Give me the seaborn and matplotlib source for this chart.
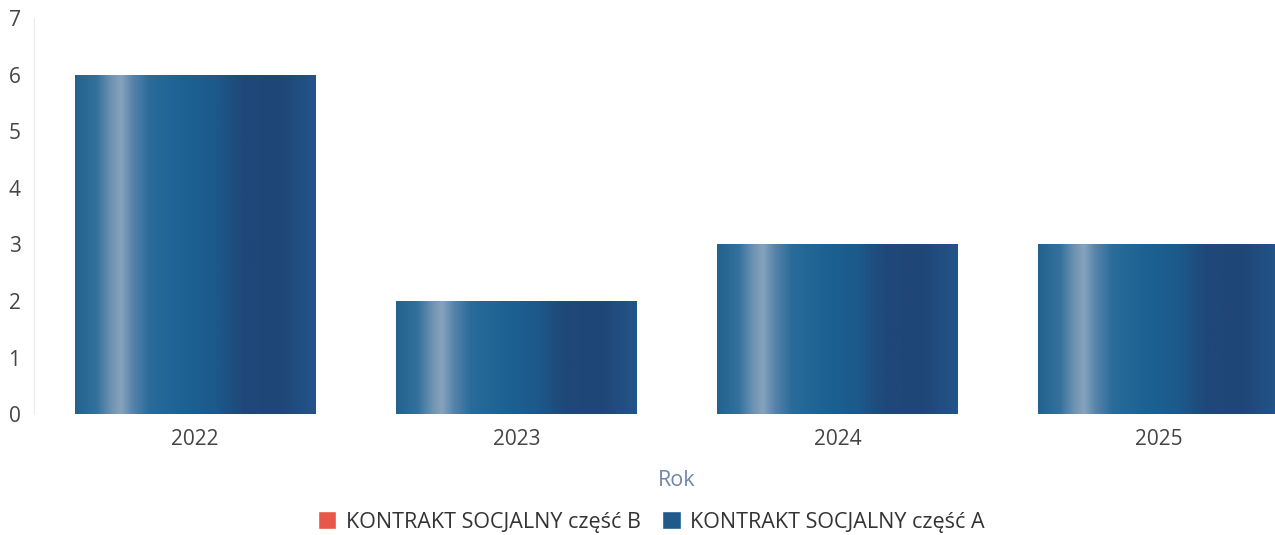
import matplotlib
matplotlib.use("Agg")
import matplotlib.pyplot as plt
from matplotlib.colors import LinearSegmentedColormap
from matplotlib.patches import Patch
import numpy as np
import pandas as pd
import seaborn as sns

# data
years = ["2022", "2023", "2024", "2025"]
values_a = [6, 2, 3, 3]   # KONTRAKT SOCJALNY część A
values_b = [0, 0, 0, 0]   # KONTRAKT SOCJALNY część B
label_a = "KONTRAKT SOCJALNY część A"
label_b = "KONTRAKT SOCJALNY część B"
y_ticks = [0, 1, 2, 3, 4, 5, 6, 7]

sns.set_theme(style="white")
plt.rcParams["font.family"] = ["Open Sans", "DejaVu Sans"]

df = pd.DataFrame({"Rok": years, "A": values_a, "B": values_b})

fig = plt.figure(figsize=(12.75, 5.35), dpi=100)
ax = fig.add_axes([0.027, 0.226, 1.008, 0.740])

sns.barplot(data=df, x="Rok", y="A", color="#1f5a8a", width=0.75,
            saturation=1, ax=ax)
n_a = len(ax.patches)
sns.barplot(data=df, x="Rok", y="B", color="#e8574a", width=0.75,
            saturation=1, bottom=values_a, ax=ax)

# horizontal shine gradient on the blue bars
blues = LinearSegmentedColormap.from_list("shine", [
    (0.00, "#23628f"), (0.09, "#34719c"), (0.15, "#6f93b2"),
    (0.19, "#86a3bd"), (0.24, "#5683aa"), (0.31, "#2a6b9a"),
    (0.45, "#1b6293"), (0.58, "#1c5a8b"), (0.70, "#1f4878"),
    (0.85, "#1f4676"), (1.00, "#23548a")])
grad = np.linspace(0, 1, 256).reshape(1, -1)
for p in ax.patches[:n_a]:
    x0, y0 = p.get_x(), p.get_y()
    w, h = p.get_width(), p.get_height()
    if h <= 0:
        continue
    im = ax.imshow(grad, cmap=blues, aspect="auto",
                   extent=[x0, x0 + w, y0, y0 + h], zorder=p.get_zorder() + 0.1)
    im.set_clip_path(p)

ax.set_xlim(-0.5, 3.5)
ax.set_ylim(0, 7)
ax.set_yticks(y_ticks)
ax.tick_params(axis="both", length=0, labelsize=15, labelcolor="#444444")
ax.tick_params(axis="y", pad=10)
ax.tick_params(axis="x", pad=11)
ax.set_ylabel("")
ax.set_xlabel("Rok", fontsize=15.5, color="#7186a8", labelpad=14)
for s in ["top", "right", "bottom"]:
    ax.spines[s].set_visible(False)
ax.spines["left"].set_color("#ebebeb")
ax.spines["left"].set_linewidth(0.8)

handles = [Patch(facecolor="#e8574a", label=label_b),
           Patch(facecolor="#1f5a8a", label=label_a)]
fig.legend(handles=handles, loc="center", bbox_to_anchor=(0.511, 0.024),
           ncol=2, frameon=False, fontsize=15.5, labelcolor="#333333",
           handlelength=0.85, handleheight=0.9, handletextpad=0.45,
           columnspacing=1.0)

fig.savefig("out.png", dpi=100, facecolor="white")
